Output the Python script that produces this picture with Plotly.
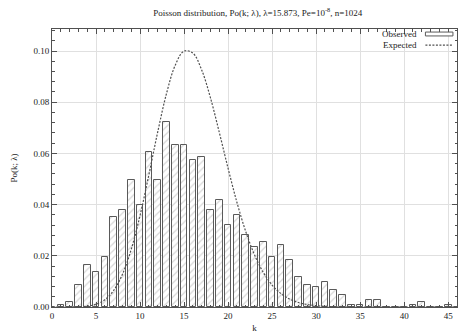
import plotly.graph_objects as go

k_values = list(range(0, 47))
observed_counts = [0, 1, 2, 9, 17, 14, 20, 36, 39, 51, 41, 62, 51, 74, 65, 65, 59, 60, 39, 43,
                   33, 37, 29, 24, 26, 20, 25, 19, 12, 9, 8, 10, 7, 5, 1, 1, 3, 3, 0, 0,
                   0, 1, 2, 0, 0, 1, 0]
n_total = 1024
observed = [c / n_total for c in observed_counts]
expected = [0.0000001, 0.000002, 0.000016, 0.000085, 0.00034, 0.00107, 0.00284, 0.00644,
            0.01277, 0.02253, 0.03576, 0.05160, 0.06825, 0.08333, 0.09448, 0.09998,
            0.09919, 0.09261, 0.08167, 0.06823, 0.05415, 0.04093, 0.02953, 0.02038,
            0.01348, 0.00856, 0.00523, 0.00307, 0.00174, 0.00095, 0.00050, 0.00026,
            0.00013, 0.00006, 0.00003, 0.00001, 0.0, 0.0, 0.0, 0.0, 0.0, 0.0, 0.0,
            0.0, 0.0, 0.0, 0.0]

FONT = "Liberation Serif"
AX = "#505050"

fig = go.Figure()
fig.add_trace(go.Bar(
    x=k_values, y=observed, width=0.75, name="Observed",
    marker=dict(color="white", line=dict(color="#5a5a5a", width=1),
                pattern=dict(shape="/", fgcolor="#b0b0b0", bgcolor="white", size=5, solidity=0.25)),
    showlegend=False,
))
fig.add_trace(go.Scatter(
    x=k_values, y=expected, mode="lines", name="Expected",
    line=dict(color="#505050", width=1.2, dash="2px,1.5px", shape="spline"),
    showlegend=False,
))

axis_common = dict(
    showline=True, linecolor=AX, linewidth=1, mirror="allticks",
    ticks="inside", ticklen=5, tickcolor=AX,
    showgrid=True, gridcolor="#e0e0e0", gridwidth=1, zeroline=False,
    tickfont=dict(family=FONT, size=9, color="#222"),
    automargin=False,
)

fig.update_layout(
    width=462, height=335,
    margin=dict(l=52, r=5, t=29, b=28),
    paper_bgcolor="white", plot_bgcolor="white",
    bargap=0,
    title=dict(
        text="Poisson distribution, Po(k; λ), λ=15.873, Pe=10<sup>-8</sup>, n=1024",
        x=0.558, xanchor="center", y=0.962, yanchor="middle",
        font=dict(family=FONT, size=9, color="#222"),
    ),
    xaxis=dict(range=[0, 46], dtick=5, tick0=0,
               minor=dict(dtick=1, ticks="inside", ticklen=2.5, tickcolor=AX, showgrid=False),
               title=dict(text="k", font=dict(family=FONT, size=9, color="#222"), standoff=4),
               **axis_common),
    yaxis=dict(range=[0, 0.1086], dtick=0.02, tick0=0, tickformat=".2f",
               minor=dict(dtick=0.004, ticks="inside", ticklen=2.5, tickcolor=AX, showgrid=False),
               title=dict(text="Po(k; λ)", font=dict(family=FONT, size=9, color="#222"), standoff=14),
               **axis_common),
)

# legend (gnuplot style: text left of sample)
fig.add_annotation(xref="paper", yref="paper", x=0.905, y=0.982, xanchor="right", yanchor="middle",
                   text="Observed", showarrow=False, font=dict(family=FONT, size=9, color="#222"))
fig.add_annotation(xref="paper", yref="paper", x=0.905, y=0.942, xanchor="right", yanchor="middle",
                   text="Expected", showarrow=False, font=dict(family=FONT, size=9, color="#222"))
fig.add_shape(type="rect", xref="paper", yref="paper", x0=0.922, x1=0.99, y0=0.975, y1=0.989,
              line=dict(color="#5a5a5a", width=1), fillcolor="white")
fig.add_shape(type="line", xref="paper", yref="paper", x0=0.922, x1=0.99, y0=0.942, y1=0.942,
              line=dict(color="#505050", width=1.2, dash="2px,1.5px"))

fig.write_html("out.html", config={"displayModeBar": False},
               post_script="document.body.style.margin='0';document.body.style.overflow='hidden';")
